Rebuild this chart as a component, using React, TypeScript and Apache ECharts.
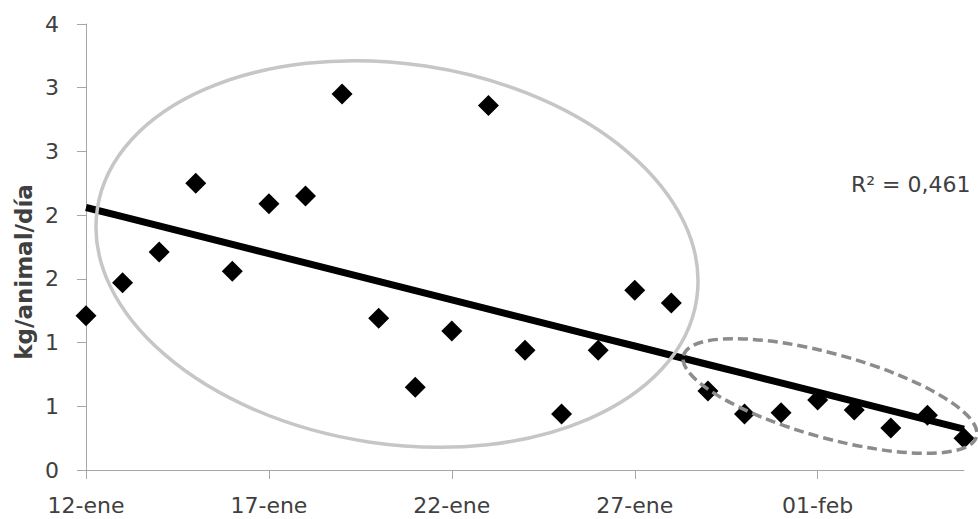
import React, { useEffect, useRef } from "react";
import * as echarts from "echarts";

const dates = [
  "12-ene", "13-ene", "14-ene", "15-ene", "16-ene", "17-ene", "18-ene", "19-ene",
  "20-ene", "21-ene", "22-ene", "23-ene", "24-ene", "25-ene", "26-ene", "27-ene",
  "28-ene", "29-ene", "30-ene", "31-ene", "01-feb", "02-feb", "03-feb", "04-feb", "05-feb",
];
const values = [
  1.21, 1.47, 1.71, 2.25, 1.56, 2.09, 2.15, 2.95,
  1.19, 0.65, 1.09, 2.86, 0.94, 0.44, 0.94, 1.41,
  1.31, 0.62, 0.44, 0.45, 0.55, 0.47, 0.33, 0.43, 0.25,
];
const yTickStep = 0.5;
const yMax = 3.5;
const r2Label = "R\u00B2 = 0,461";
const yTitle = "kg/animal/día";

function linearTrend(ys: number[]): number[] {
  const n = ys.length;
  const mx = (n - 1) / 2;
  const my = ys.reduce((a, b) => a + b, 0) / n;
  let sxy = 0;
  let sxx = 0;
  ys.forEach((y, i) => {
    sxy += (i - mx) * (y - my);
    sxx += (i - mx) * (i - mx);
  });
  const slope = sxy / sxx;
  return ys.map((_, i) => my + slope * (i - mx));
}

const FONT = "DejaVu Sans";
const TEXT = "#404040";
const AXIS = "#a6a6a6";

export default function App() {
  const ref = useRef<HTMLDivElement>(null);
  useEffect(() => {
    if (!ref.current) return;
    const chart = echarts.init(ref.current, undefined, { renderer: "svg" });
    const trend = linearTrend(values);
    chart.setOption({
      animation: false,
      backgroundColor: "#ffffff",
      grid: { left: 86, right: 14, top: 24, bottom: 49, containLabel: false },
      xAxis: {
        type: "category",
        data: dates,
        boundaryGap: false,
        axisLine: { show: true, lineStyle: { color: AXIS, width: 1 } },
        axisTick: { show: true, interval: 4, length: 9, lineStyle: { color: AXIS } },
        axisLabel: {
          interval: 4,
          margin: 24,
          color: TEXT,
          fontSize: 22,
          fontFamily: FONT,
        },
        splitLine: { show: false },
      },
      yAxis: {
        type: "value",
        min: 0,
        max: yMax,
        interval: yTickStep,
        axisLine: { show: true, lineStyle: { color: AXIS, width: 1 } },
        axisTick: { show: true, length: 9, lineStyle: { color: AXIS } },
        axisLabel: {
          margin: 27,
          color: TEXT,
          fontSize: 22,
          fontFamily: FONT,
          formatter: (v: number) => String(Math.round(v)),
        },
        splitLine: { show: false },
      },
      series: [
        {
          type: "line",
          data: trend,
          showSymbol: false,
          symbol: "none",
          lineStyle: { color: "#000000", width: 7 },
          z: 2,
        },
        {
          type: "scatter",
          data: values,
          symbol: "diamond",
          symbolSize: 21,
          itemStyle: { color: "#000000", opacity: 1 },
          z: 3,
        },
      ],
      graphic: [
        {
          type: "ellipse",
          x: 397,
          y: 254,
          rotation: -0.15,
          shape: { cx: 0, cy: 0, rx: 303, ry: 190 },
          style: { fill: "none", stroke: "#c6c6c6", lineWidth: 3.5 },
          z: 100,
          silent: true,
        },
        {
          type: "ellipse",
          x: 830,
          y: 396,
          rotation: -0.27,
          shape: { cx: 0, cy: 0, rx: 152, ry: 42 },
          style: { fill: "none", stroke: "#8c8c8c", lineWidth: 3.5, lineDash: [10, 5] },
          z: 100,
          silent: true,
        },
        {
          type: "text",
          x: 851,
          y: 184,
          style: {
            text: r2Label,
            fill: TEXT,
            font: `22px "${FONT}"`,
            textAlign: "left",
            textVerticalAlign: "middle",
          },
          z: 100,
        },
        {
          type: "text",
          x: 24,
          y: 272,
          rotation: Math.PI / 2,
          style: {
            text: yTitle,
            fill: TEXT,
            font: `bold 23px "${FONT}"`,
            textAlign: "center",
            textVerticalAlign: "middle",
          },
          z: 100,
        },
      ],
    });
    return () => chart.dispose();
  }, []);
  return (
    <div style={{ position: "fixed", left: 0, top: 0, width: 978, height: 519, background: "#fff" }}>
      <div ref={ref} style={{ width: 978, height: 519 }} />
    </div>
  );
}
